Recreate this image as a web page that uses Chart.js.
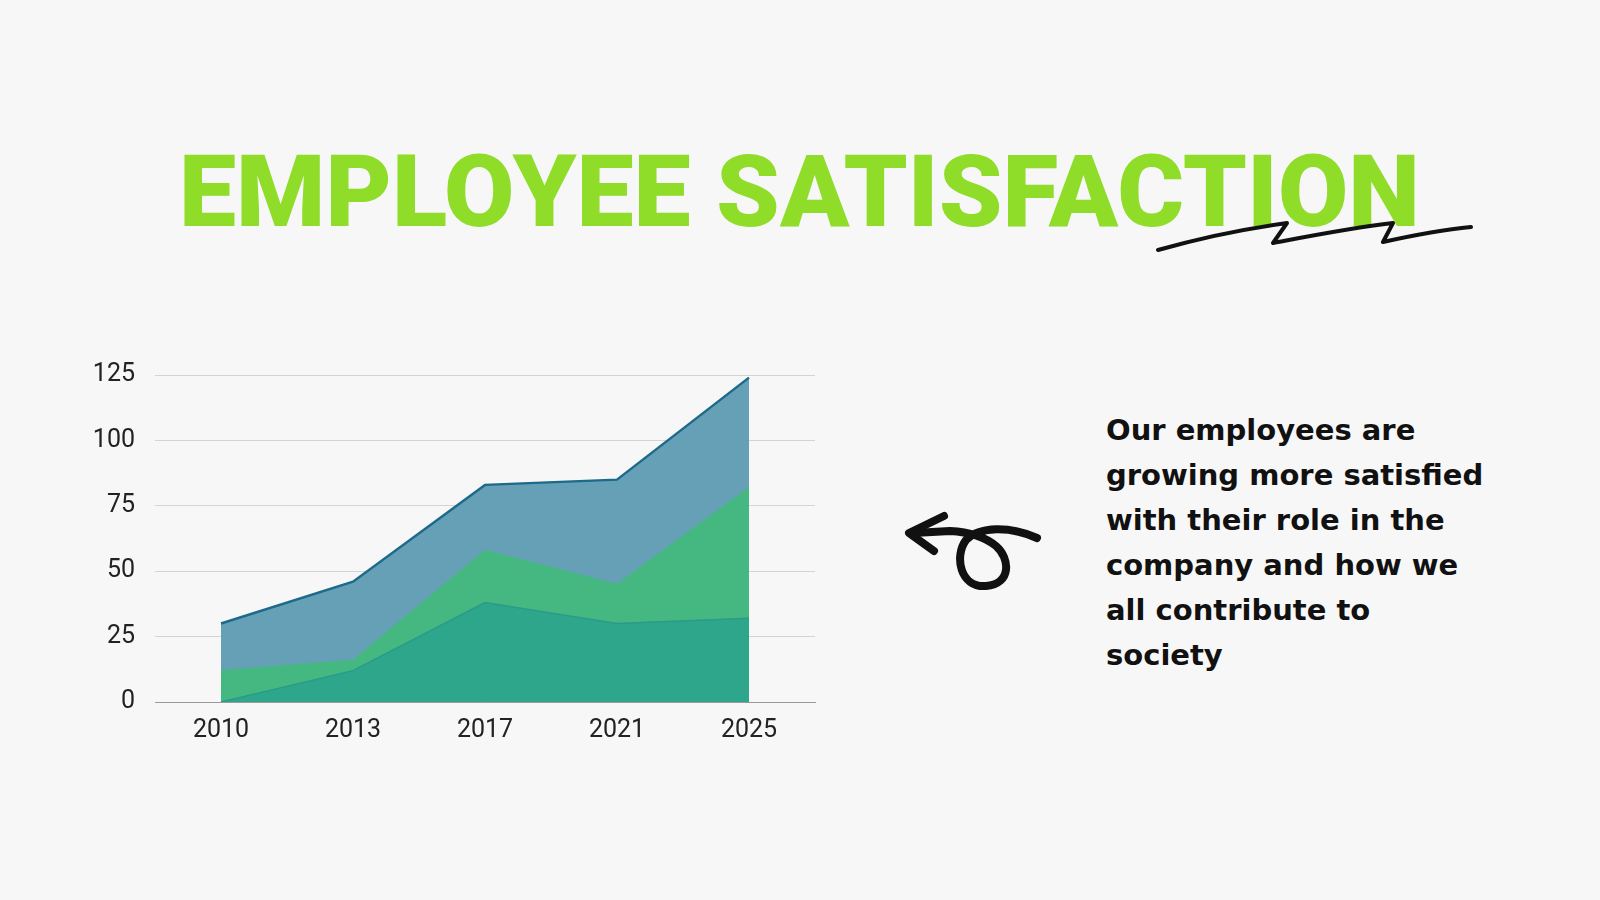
<!DOCTYPE html>
<html>
<head>
<meta charset="utf-8">
<script src="https://cdn.jsdelivr.net/npm/chart.js@4"></script>
<style>
  html, body { margin: 0; padding: 0; }
  body { width: 1600px; height: 900px; background: #f7f7f7; position: relative; overflow: hidden; font-family: Roboto, sans-serif; }
  #title { position: absolute; left: 179px; top: 130px; margin: 0; font-family: Roboto, sans-serif; font-weight: 900; font-size: 101px; line-height: 124px; color: #8fdc29; white-space: nowrap; transform-origin: 0 0; }
  #chartBox { position: absolute; left: 0; top: 340px; width: 860px; height: 420px; }
  #note { position: absolute; left: 1106px; top: 408px; font-family: "DejaVu Sans", sans-serif; font-weight: bold; font-size: 29px; line-height: 45px; color: #111; }
  svg { position: absolute; left: 0; top: 0; }
</style>
</head>
<body>
<h1 id="title">EMPLOYEE SATISFACTION</h1>
<svg width="1600" height="900">
  <path d="M1158,250 C1200,238 1250,228 1287,223 L1273,243 C1310,236 1350,228 1393,223 L1383,242 C1410,236 1440,230 1471,227"
        fill="none" stroke="#111" stroke-width="4" stroke-linecap="round" stroke-linejoin="round"/>
  <path d="M1037,538 C1010,526 980,526 966,540 C954,556 960,588 986,586 C1012,584 1010,558 996,546 C985,537 970,532 950,531 L914,533"
        fill="none" stroke="#111" stroke-width="8" stroke-linecap="round" stroke-linejoin="round"/>
  <path d="M944,516 L909,533 L934,551" fill="none" stroke="#111" stroke-width="8" stroke-linecap="round" stroke-linejoin="round"/>
</svg>
<div id="chartBox"><canvas id="areaChart"></canvas></div>
<div id="note">
  <div>Our employees are</div>
  <div>growing more satisfied</div>
  <div>with their role in the</div>
  <div>company and how we</div>
  <div>all contribute to</div>
  <div>society</div>
</div>
<script>
const years = ['2010', '2013', '2017', '2021', '2025'];
const seriesTop = [30, 46, 83, 85, 124];
const seriesMid = [12, 16, 58, 45, 82];
const seriesLow = [0, 12, 38, 30, 32];
const yTicks = [0, 25, 50, 75, 100, 125];

// squeeze title to the reference width
const title = document.getElementById('title');
const w = title.getBoundingClientRect().width;
title.style.transform = 'scaleX(' + (1241 / w) + ')';

const ctx = document.getElementById('areaChart').getContext('2d');
new Chart(ctx, {
  type: 'line',
  data: {
    labels: years,
    datasets: [
      { label: 'Low', data: seriesLow, fill: 'origin', backgroundColor: '#2ea68c', borderColor: '#2a9a8a', borderWidth: 1.5, order: 1 },
      { label: 'Mid', data: seriesMid, fill: 'origin', backgroundColor: '#45b882', borderColor: '#45b882', borderWidth: 1, order: 2 },
      { label: 'Top', data: seriesTop, fill: 'origin', backgroundColor: '#66a0b6', borderColor: '#1d6a8a', borderWidth: 2.5, order: 3 }
    ]
  },
  options: {
    responsive: true,
    maintainAspectRatio: false,
    animation: false,
    layout: { padding: { top: 32.5, right: 45, left: 0, bottom: 0 } },
    elements: { point: { radius: 0 }, line: { tension: 0 } },
    plugins: { legend: { display: false }, tooltip: { enabled: false } },
    scales: {
      x: {
        offset: true,
        grid: { display: false, drawTicks: false },
        border: { color: '#9a9a9a', width: 1 },
        ticks: { color: '#222', font: { family: 'Roboto', size: 25 }, padding: 14, maxRotation: 0 },
        afterFit: (scale) => { scale.height = 58; }
      },
      y: {
        min: 0,
        max: 125,
        afterBuildTicks: (scale) => { scale.ticks = yTicks.map(v => ({ value: v })); },
        grid: { color: '#d4d4d4', drawTicks: false },
        border: { display: false },
        ticks: { color: '#222', font: { family: 'Roboto', size: 25 }, padding: 20 },
        afterFit: (scale) => { scale.width = 155; }
      }
    }
  }
});
</script>
</body>
</html>
